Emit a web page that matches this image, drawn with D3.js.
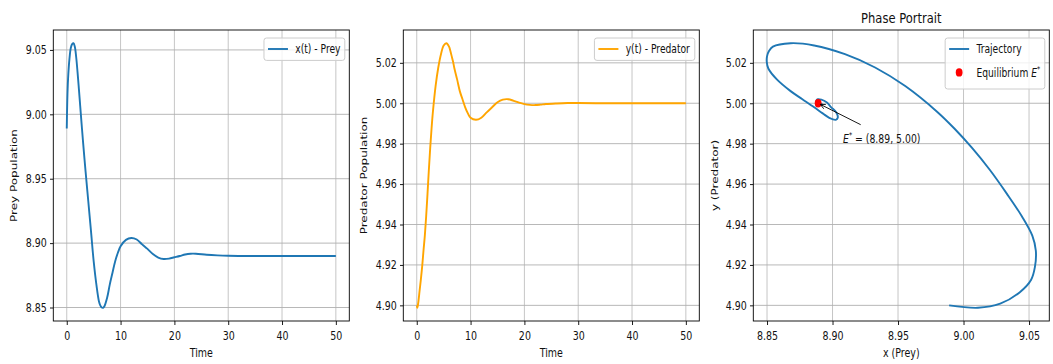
<!DOCTYPE html>
<html>
<head>
<meta charset="utf-8">
<script src="https://cdn.jsdelivr.net/npm/d3@7"></script>
<style>
  body { margin: 0; background: #fff; }
  svg { display: block; }
  text { font-family: "DejaVu Sans", sans-serif; fill: #111; }
</style>
</head>
<body>
<div id="chart"></div>
<script>
// values
const time = [0, 0.1, 0.25, 0.5, 0.75, 1, 1.25, 1.5, 1.75, 2, 2.25, 2.5, 2.75, 3, 3.5, 4, 4.5, 5, 5.5, 6,
              6.25, 6.5, 6.75, 7, 7.5, 8, 8.5, 9, 9.5, 10, 11, 12, 13, 14, 15, 16, 17, 18, 19, 20,
              21, 22, 23, 24, 26, 28, 30, 35, 40, 45, 50];
const prey = [8.989, 9.011, 9.028, 9.043, 9.0515, 9.0545, 9.0552, 9.0525, 9.0445, 9.033,
              9.020, 9.0065, 8.993, 8.980, 8.9555, 8.9325, 8.9095, 8.886, 8.868, 8.8545,
              8.8515, 8.850, 8.8498, 8.851, 8.8575, 8.868, 8.877, 8.886, 8.8925, 8.8975,
              8.9025, 8.904, 8.9028, 8.899, 8.8955, 8.8915, 8.8888, 8.8877, 8.888, 8.889,
              8.890, 8.8912, 8.8918, 8.8918, 8.891, 8.8905, 8.8902, 8.890, 8.890, 8.890, 8.890];
const predator = [4.900, 4.8988, 4.9008, 4.9065, 4.9125, 4.919, 4.927, 4.9345, 4.9441, 4.9553,
                  4.9671, 4.9779, 4.9875, 4.9957, 5.0085, 5.0177, 5.0243, 5.0286, 5.0297, 5.028,
                  5.0258, 5.0232, 5.0205, 5.0172, 5.0118, 5.006, 5.002, 4.998, 4.995, 4.9928,
                  4.9918, 4.9928, 4.9955, 4.998, 5.0005, 5.0018, 5.002, 5.0012, 5.0003, 4.9996,
                  4.9992, 4.9991, 4.9993, 4.9996, 4.9999, 5.0001, 5.0001, 5.000, 5.000, 5.000, 5.000];
const equilibrium = [8.889, 5.00];
const annotText = [8.908, 4.9805];   // where the E* label sits
const annotTail = [8.9215, 4.9894];  // where its arrow starts

const timeTicks = [0, 10, 20, 30, 40, 50];
const preyTicks = [8.85, 8.90, 8.95, 9.00, 9.05];
const predTicks = [4.90, 4.92, 4.94, 4.96, 4.98, 5.00, 5.02];

const W = 1053, H = 364;
const SX = 0.79;         // text in the picture is squeezed sideways
const FS = 12;
const BLUE = "#1f77b4", ORANGE = "#ffa500";

const svg = d3.select("#chart").append("svg").attr("width", W).attr("height", H);

// matplotlib style 5% margins
function pad(ext) {
  const r = ext[1] - ext[0];
  return [ext[0] - 0.05 * r, ext[1] + 0.05 * r];
}

const box1 = { l: 53.3, r: 349.3, t: 30, b: 321 };
const box2 = { l: 403.3, r: 699.3, t: 30, b: 321 };
const box3 = { l: 753.3, r: 1049.3, t: 30, b: 321 };

function stext(x, y, str, size, anchor, rot) {
  return svg.append("text")
    .attr("transform", `translate(${x},${y}) scale(${SX},1)` + (rot ? " rotate(-90)" : ""))
    .attr("text-anchor", anchor)
    .attr("font-size", size)
    .text(str);
}

function drawPanel(b, xs, ys, xTicks, yTicks, xFmt, yFmt) {
  svg.append("g").selectAll("line").data(xTicks).join("line")
    .attr("x1", d => xs(d)).attr("x2", d => xs(d))
    .attr("y1", b.t).attr("y2", b.b)
    .attr("stroke", "#c6c6c6").attr("stroke-width", 1);
  svg.append("g").selectAll("line").data(yTicks).join("line")
    .attr("x1", b.l).attr("x2", b.r)
    .attr("y1", d => ys(d)).attr("y2", d => ys(d))
    .attr("stroke", "#b0b0b0").attr("stroke-width", 0.9);

  const ax = svg.append("g").attr("transform", `translate(0,${b.b})`)
    .call(d3.axisBottom(xs).tickValues(xTicks).tickFormat(xFmt).tickSize(4).tickPadding(6.6).tickSizeOuter(0));
  const ay = svg.append("g").attr("transform", `translate(${b.l},0)`)
    .call(d3.axisLeft(ys).tickValues(yTicks).tickFormat(yFmt).tickSize(3.3).tickPadding(3).tickSizeOuter(0));
  [ax, ay].forEach(a => {
    a.select(".domain").remove();
    a.attr("font-size", FS).attr("font-family", "DejaVu Sans");
    a.selectAll("line").attr("stroke", "#000").attr("stroke-width", 0.9);
    a.selectAll("text").attr("fill", "#111");
  });
  ax.selectAll("text").attr("transform", `scale(${SX},1)`);
  ay.selectAll("text").attr("x", -6.6 / SX).attr("transform", `scale(${SX},1)`);
}

function spines(b) {
  svg.append("rect")
    .attr("x", b.l).attr("y", b.t)
    .attr("width", b.r - b.l).attr("height", b.b - b.t)
    .attr("fill", "none").attr("stroke", "#000").attr("stroke-width", 0.9);
}

function legend(b, rows) {
  const lg = svg.append("g");
  const rect = lg.append("rect");
  let maxW = 0;
  rows.forEach((r, i) => {
    const cy = 11 + i * 23.4;
    if (r.type === "line") {
      lg.append("line").attr("x1", 4).attr("x2", 24).attr("y1", cy).attr("y2", cy)
        .attr("stroke", r.color).attr("stroke-width", 1.9);
    } else {
      lg.append("ellipse").attr("cx", 14).attr("cy", cy).attr("rx", 3.4).attr("ry", 4.2)
        .attr("fill", r.color);
    }
    const t = lg.append("text")
      .attr("transform", `translate(31.3,${cy + 4.1}) scale(${SX},1)`)
      .attr("font-size", 11.6);
    t.append("tspan").text(r.label);
    if (r.math) {
      t.append("tspan").attr("font-style", "italic").text("E");
      t.append("tspan").attr("dy", -4.5).attr("font-size", 8).text("*");
    }
    maxW = Math.max(maxW, t.node().getBBox().width * SX);
  });
  const w = 31.3 + maxW + 4.3;
  const h = rows.length > 1 ? 11 + (rows.length - 1) * 23.4 + 16.6 : 22.4;
  rect.attr("x", 0).attr("y", 0).attr("width", w).attr("height", h).attr("rx", 2.5)
    .attr("fill", "#fff").attr("fill-opacity", 0.8)
    .attr("stroke", "#cccccc").attr("stroke-width", 1);
  lg.attr("transform", `translate(${b.r - 4.5 - w},${b.t + 8})`);
}

const f2 = d3.format(".2f");
const fd = d3.format("d");
const curve = d3.curveCatmullRom.alpha(0.5);

const tDom = pad(d3.extent(time));
const xDom = pad(d3.extent(prey));
const yDom = pad(d3.extent(predator));

// panel 1 - prey
const x1 = d3.scaleLinear().domain(tDom).range([box1.l, box1.r]);
const y1 = d3.scaleLinear().domain(xDom).range([box1.b, box1.t]);
drawPanel(box1, x1, y1, timeTicks, preyTicks, fd, f2);
svg.append("path")
  .attr("d", d3.line().x((d, i) => x1(time[i])).y(d => y1(d)).curve(curve)(prey))
  .attr("fill", "none").attr("stroke", BLUE).attr("stroke-width", 1.9);
spines(box1);
stext((box1.l + box1.r) / 2, 357, "Time", FS, "middle");
stext(box1.l - 36.6, (box1.t + box1.b) / 2, "Prey Population", FS, "middle", true);
legend(box1, [{ type: "line", color: BLUE, label: "x(t) - Prey" }]);

// panel 2 - predator
const x2 = d3.scaleLinear().domain(tDom).range([box2.l, box2.r]);
const y2 = d3.scaleLinear().domain(yDom).range([box2.b, box2.t]);
drawPanel(box2, x2, y2, timeTicks, predTicks, fd, f2);
svg.append("path")
  .attr("d", d3.line().x((d, i) => x2(time[i])).y(d => y2(d)).curve(curve)(predator))
  .attr("fill", "none").attr("stroke", ORANGE).attr("stroke-width", 1.9);
spines(box2);
stext((box2.l + box2.r) / 2, 357, "Time", FS, "middle");
stext(box2.l - 36, (box2.t + box2.b) / 2, "Predator Population", FS, "middle", true);
legend(box2, [{ type: "line", color: ORANGE, label: "y(t) - Predator" }]);

// panel 3 - phase portrait
const x3 = d3.scaleLinear().domain(xDom).range([box3.l, box3.r]);
const y3 = d3.scaleLinear().domain(yDom).range([box3.b, box3.t]);
drawPanel(box3, x3, y3, preyTicks, predTicks, f2, f2);
svg.append("path")
  .attr("d", d3.line().x(d => x3(d)).y((d, i) => y3(predator[i])).curve(curve)(prey))
  .attr("fill", "none").attr("stroke", BLUE).attr("stroke-width", 1.9);
svg.append("ellipse")
  .attr("cx", x3(equilibrium[0])).attr("cy", y3(equilibrium[1]))
  .attr("rx", 3.4).attr("ry", 4.2).attr("fill", "red");
spines(box3);

// annotation arrow
const hx = x3(equilibrium[0]), hy = y3(equilibrium[1]);
const tx = x3(annotTail[0]), ty = y3(annotTail[1]);
const len = Math.hypot(tx - hx, ty - hy);
const ux = (tx - hx) / len, uy = (ty - hy) / len;
const px = hx + ux * 2.5, py = hy + uy * 2.5;
const ang = Math.PI / 7, hl = 5.5;
function rot(a) { return [ux * Math.cos(a) - uy * Math.sin(a), ux * Math.sin(a) + uy * Math.cos(a)]; }
const r1 = rot(ang), r2 = rot(-ang);
svg.append("path")
  .attr("d", `M${tx},${ty}L${px},${py}M${px + r1[0] * hl},${py + r1[1] * hl}L${px},${py}L${px + r2[0] * hl},${py + r2[1] * hl}`)
  .attr("fill", "none").attr("stroke", "#000").attr("stroke-width", 0.9);
const at = svg.append("text")
  .attr("transform", `translate(${x3(annotText[0])},${y3(annotText[1])}) scale(${SX},1)`)
  .attr("font-size", 11.8);
at.append("tspan").attr("font-style", "italic").text("E");
at.append("tspan").attr("dy", -4.5).attr("font-size", 8).text("*");
at.append("tspan").attr("dy", 4.5).text(" = (8.89,  5.00)");

stext((box3.l + box3.r) / 2, 357, "x (Prey)", FS, "middle");
stext(box3.l - 35.5, (box3.t + box3.b) / 2, "y (Predator)", FS, "middle", true);
stext((box3.l + box3.r) / 2, 22.5, "Phase Portrait", 14.6, "middle");
legend(box3, [
  { type: "line", color: BLUE, label: "Trajectory" },
  { type: "dot", color: "red", label: "Equilibrium ", math: true }
]);
</script>
</body>
</html>
